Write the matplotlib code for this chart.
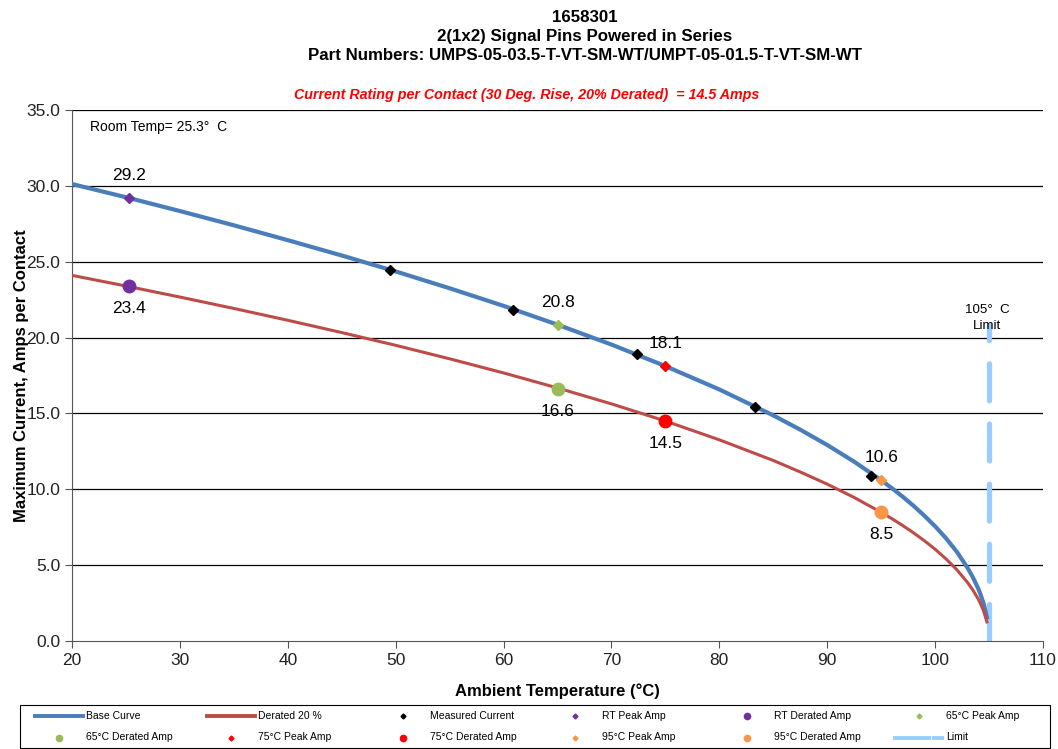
import matplotlib.pyplot as plt
from matplotlib.lines import Line2D
from matplotlib.patches import Rectangle

plt.rcParams['font.family'] = ['Liberation Sans', 'DejaVu Sans']

# curve values
temps = [20, 25, 30, 35, 40, 45, 50, 55, 60, 65, 70, 75, 80, 85, 87.5, 90,
         92.5, 95, 96, 97, 98, 99, 100, 101, 102, 103, 103.5, 104, 104.2,
         104.5, 104.8]
base = [30.12, 29.25, 28.34, 27.40, 26.42, 25.41, 24.36, 23.25, 22.09, 20.85,
        19.54, 18.12, 16.58, 14.87, 13.93, 12.92, 11.82, 10.60, 10.07, 9.51,
        8.91, 8.26, 7.56, 6.78, 5.89, 4.83, 4.20, 3.45, 3.09, 2.46, 1.57]
derated = [24.10, 23.40, 22.67, 21.92, 21.14, 20.33, 19.49, 18.60, 17.67, 16.68,
           15.63, 14.50, 13.26, 11.90, 11.14, 10.34, 9.46, 8.48, 8.06, 7.61,
           7.13, 6.61, 6.05, 5.42, 4.71, 3.86, 3.36, 2.76, 2.47, 1.97, 1.26]

meas_t = [49.5, 60.9, 72.4, 83.3, 94.1]
meas_a = [24.45, 21.8, 18.9, 15.4, 10.9]

peak_t = [25.3, 65, 75, 95]
peak_a = [29.2, 20.8, 18.1, 10.6]
der_a = [23.4, 16.6, 14.5, 8.5]
pt_names = ['RT', '65°C', '75°C', '95°C']
pt_colors = ['#7030A0', '#9BBB59', '#FF0000', '#F79646']

limit_t = 105
limit_a = [0, 20.8]

W, H = 1058, 749
fig = plt.figure(figsize=(W / 100, H / 100), dpi=100)
ax = fig.add_axes([72 / W, 1 - 641 / H, (1043 - 72) / W, (641 - 110) / H])

blue = '#4A7EBB'
red = '#BE4B48'
lim_c = '#99CCFF'

for y in range(5, 40, 5):
    ax.axhline(y, color='black', lw=0.9, zorder=1)

ax.plot([limit_t, limit_t], limit_a, color=lim_c, lw=3.8, dashes=(7.0, 4.4),
        dash_capstyle='round', zorder=2)
ax.plot(temps, base, color=blue, lw=3, zorder=3)
ax.plot(temps, derated, color=red, lw=2.2, zorder=3)
ax.plot(meas_t, meas_a, 'D', color='black', ms=5, zorder=4)

for t, p, d, c in zip(peak_t, peak_a, der_a, pt_colors):
    ax.plot(t, p, 'D', color=c, ms=5, zorder=5)
    ax.plot(t, d, 'o', color=c, ms=9, zorder=5)
    ax.text(t, p + 1.0, f'{p:.1f}', ha='center', va='bottom', fontsize=12.5)
    ax.text(t, d - 1.0, f'{d:.1f}', ha='center', va='top', fontsize=12.5)

ax.text(limit_t - 0.15, 20.4, '105°  C\nLimit', ha='center', va='bottom',
        fontsize=9.6, linespacing=1.35)
ax.text(21.7, 33.9, 'Room Temp= 25.3°  C', fontsize=10, va='center')

ax.set_xlim(20, 110)
ax.set_ylim(0, 35)
ax.set_xticks(range(20, 111, 10))
ax.set_yticks(range(0, 36, 5))
ax.set_yticklabels([f'{v:.1f}' for v in range(0, 36, 5)])
ax.tick_params(labelsize=12.5, direction='out', length=5, color='#555555',
               labelcolor='#222222')
for s in ['top', 'right']:
    ax.spines[s].set_visible(False)
for s in ['left', 'bottom']:
    ax.spines[s].set_color('#555555')

ax.set_xlabel('Ambient Temperature (°C)', fontsize=12, fontweight='bold',
              labelpad=11)
ax.set_ylabel('Maximum Current, Amps per Contact', fontsize=12, fontweight='bold',
              labelpad=-2)

cx = 585 / W
fig.text(cx, 1 - 17 / H, '1658301', ha='center', va='center', fontsize=12.2,
         fontweight='bold')
fig.text(cx, 1 - 37 / H, '2(1x2) Signal Pins Powered in Series', ha='center',
         va='center', fontsize=12.2, fontweight='bold')
fig.text(cx, 1 - 55 / H, 'Part Numbers: UMPS-05-03.5-T-VT-SM-WT/UMPT-05-01.5-T-VT-SM-WT',
         ha='center', va='center', fontsize=12.2, fontweight='bold')
fig.text(527 / W, 1 - 95 / H,
         'Current Rating per Contact (30 Deg. Rise, 20% Derated)  = 14.5 Amps',
         ha='center', va='center', fontsize=10.3, fontweight='bold',
         style='italic', color='red')

# legend drawn by hand: 6 equal columns, 2 rows
fig.add_artist(Rectangle((20 / W, 1 - 748 / H), 1030 / W, 43 / H,
                         transform=fig.transFigure, fill=False,
                         edgecolor='black', lw=0.8))
entries = [('line', blue, 'Base Curve'), ('line', red, 'Derated 20 %'),
           ('D', 'black', 'Measured Current')]
for n, c in zip(pt_names, pt_colors):
    entries.append(('D', c, f'{n} Peak Amp'))
    entries.append(('o', c, f'{n} Derated Amp'))
entries.append(('limit', lim_c, 'Limit'))

for k, (kind, c, label) in enumerate(entries):
    row, col = divmod(k, 6)
    xc = 59 + 172 * col
    yc = 716 + 21.5 * row
    yf = 1 - yc / H
    if kind == 'line':
        fig.add_artist(Line2D([(xc - 24) / W, (xc + 24) / W], [yf, yf], color=c,
                              lw=2.8, transform=fig.transFigure))
    elif kind == 'limit':
        fig.add_artist(Line2D([(xc - 24) / W, (xc + 10) / W], [yf, yf], color=c,
                              lw=2.8, transform=fig.transFigure))
        fig.add_artist(Line2D([(xc + 15) / W, (xc + 23) / W], [yf, yf], color=c,
                              lw=2.8, transform=fig.transFigure))
    else:
        fig.add_artist(Line2D([xc / W], [yf], ls='', marker=kind, color=c,
                              ms=2.5 if kind == 'D' else 4.5,
                              transform=fig.transFigure))
    fig.text((xc + 27) / W, yf, label, fontsize=7.5, va='center', ha='left')

fig.savefig('out.png', dpi=100)
